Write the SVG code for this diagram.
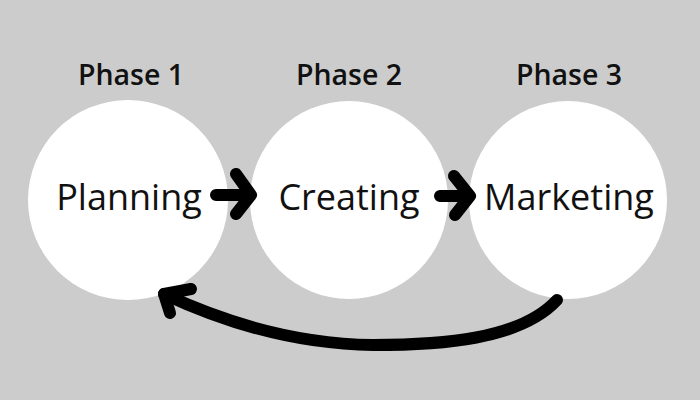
<svg xmlns="http://www.w3.org/2000/svg" width="700" height="400" viewBox="0 0 700 400">
<style>
.node circle{fill:#ffffff}
.ph{font-family:"Open Sans",sans-serif;font-weight:600;font-size:28.5px;fill:#111;text-anchor:middle}
.lb{font-family:"Open Sans",sans-serif;font-size:36px;fill:#111;text-anchor:middle}
.con path{fill:none;stroke:#000;stroke-width:12;stroke-linecap:round;stroke-linejoin:round}
</style>
<rect width="700" height="400" fill="#cccccc"/>
<g id="planning" class="node">
<circle cx="128" cy="200" r="100"/>
<text class="ph" x="131" y="85">Phase 1</text>
<text class="lb" x="129" y="210">Planning</text>
</g>
<g id="creating" class="node">
<circle cx="349" cy="200" r="99"/>
<text class="ph" x="349" y="85">Phase 2</text>
<text class="lb" x="349" y="210">Creating</text>
</g>
<g id="marketing" class="node">
<circle cx="568" cy="200" r="99"/>
<text class="ph" x="569" y="85">Phase 3</text>
<text class="lb" x="569" y="210">Marketing</text>
</g>
<g id="connectors" class="con">
<path d="M216 195 L249 195 M236 174 L251 195 L236 214"/>
<path d="M440 196 L469 196 M454 176 L470 196 L455 215"/>
<path d="M557 300 C520 340 440 345 373 345 C300 344 230 325 164 294"/>
<path d="M191 289 L164 294 L170 313"/>
</g>
</svg>
